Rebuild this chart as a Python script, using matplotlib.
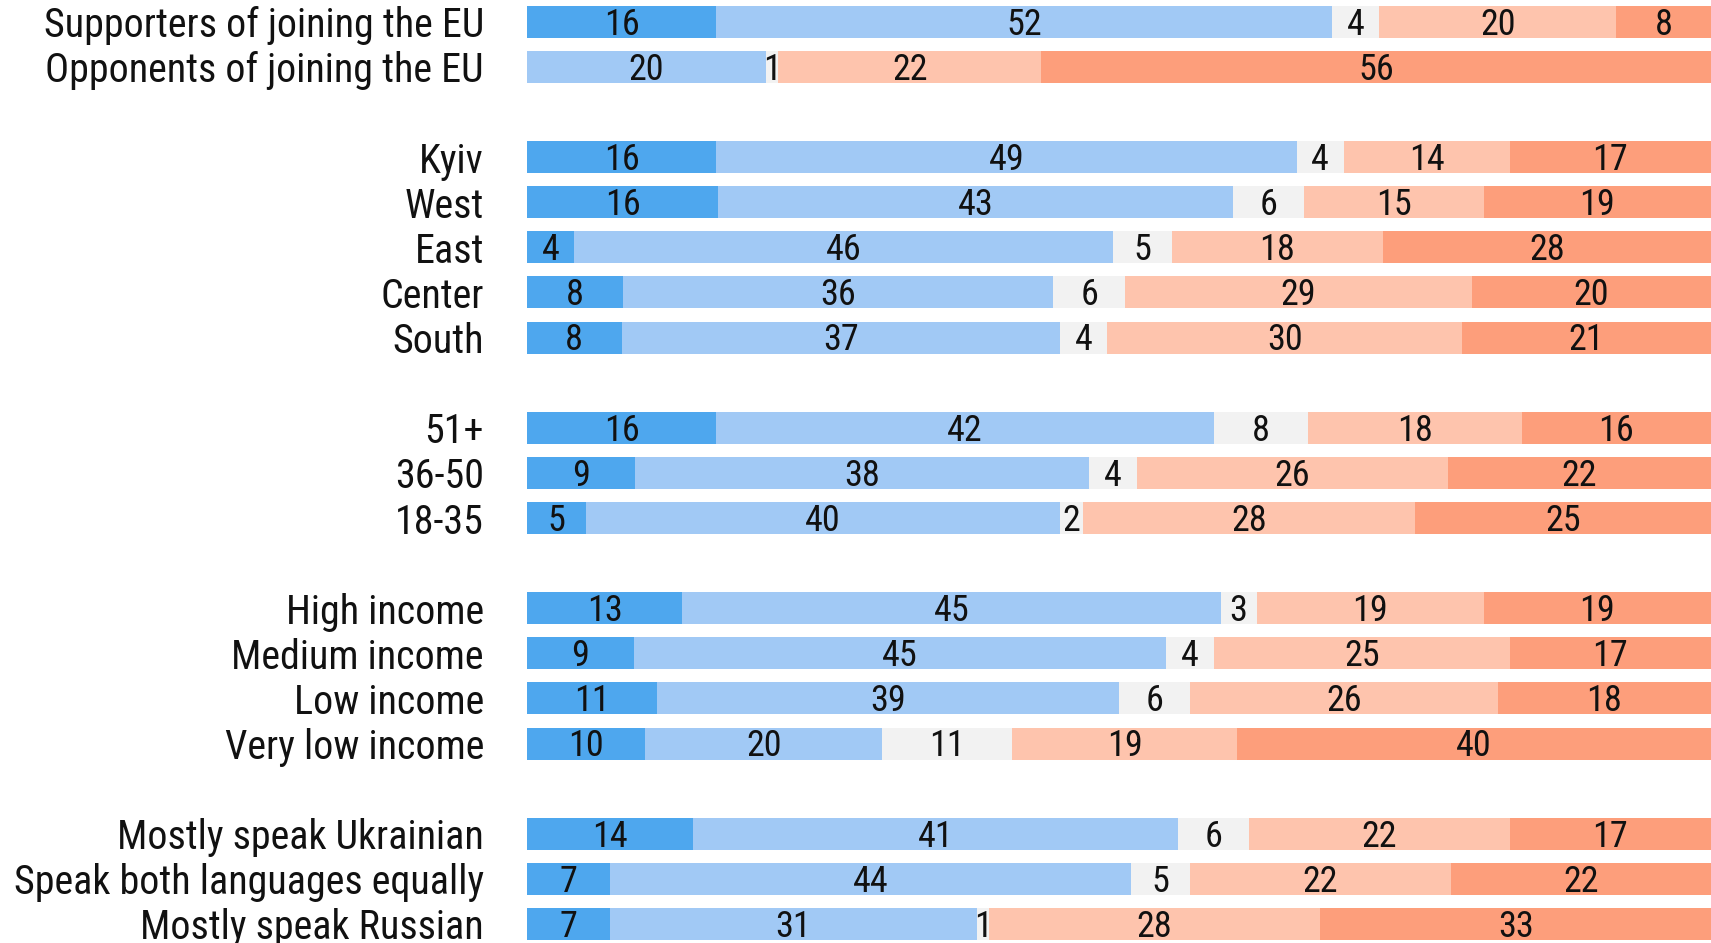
import matplotlib
matplotlib.use("Agg")
import matplotlib.pyplot as plt
import numpy as np

categories = [
    "Supporters of joining the EU", "Opponents of joining the EU",
    "Kyiv", "West", "East", "Center", "South",
    "51+", "36-50", "18-35",
    "High income", "Medium income", "Low income", "Very low income",
    "Mostly speak Ukrainian", "Speak both languages equally", "Mostly speak Russian",
]
row_positions = [0, 1, 3, 4, 5, 6, 7, 9, 10, 11, 13, 14, 15, 16, 18, 19, 20]

s1 = [16, 0, 16, 16, 4, 8, 8, 16, 9, 5, 13, 9, 11, 10, 14, 7, 7]
s2 = [52, 20, 49, 43, 46, 36, 37, 42, 38, 40, 45, 45, 39, 20, 41, 44, 31]
s3 = [4, 1, 4, 6, 5, 6, 4, 8, 4, 2, 3, 4, 6, 11, 6, 5, 1]
s4 = [20, 22, 14, 15, 18, 29, 30, 18, 26, 28, 19, 25, 26, 19, 22, 22, 28]
s5 = [8, 56, 17, 19, 28, 20, 21, 16, 22, 25, 19, 17, 18, 40, 17, 22, 33]

series = [s1, s2, s3, s4, s5]
colors = ["#4ea7ee", "#a1c9f5", "#f2f2f2", "#fec4ad", "#fd9e7b"]

plt.rcParams['font.family'] = ['Roboto Condensed', 'Liberation Sans Narrow', 'DejaVu Sans Condensed', 'Roboto', 'DejaVu Sans']

W, H = 1711, 943
fig = plt.figure(figsize=(W / 100, H / 100), dpi=100)
x0 = 527 / W
ax = fig.add_axes([x0, 0, 1 - x0, 1])

y = np.array(row_positions, dtype=float)
data = np.array(series, dtype=float)
shares = data / data.sum(axis=0) * 100  # each row drawn as 100%

num_fs = 26
left = np.zeros(len(categories))
for k, c in enumerate(colors):
    v = shares[k]
    ax.barh(y, v, left=left, height=0.71, color=c, linewidth=0)
    for yi, li, vi, lab in zip(y, left, v, data[k]):
        if lab > 0:
            ax.annotate(f"{int(lab)}", xy=(li + vi / 2, yi), xytext=(0, -0.711 * num_fs / 2),
                        textcoords="offset points", ha="center", va="baseline",
                        fontsize=num_fs, color="#111111")
    left += v

ax.set_xlim(0, 100)
ax.set_ylim(20 + 19 / 45.1, -21.8 / 45.1)
ax.set_yticks(y)
ax.set_yticklabels(categories, fontsize=28.8, color="#111111")
ax.tick_params(axis="y", length=0, pad=31)
ax.set_xticks([])
for sp in ax.spines.values():
    sp.set_visible(False)

fig.savefig("out.png", dpi=100)
